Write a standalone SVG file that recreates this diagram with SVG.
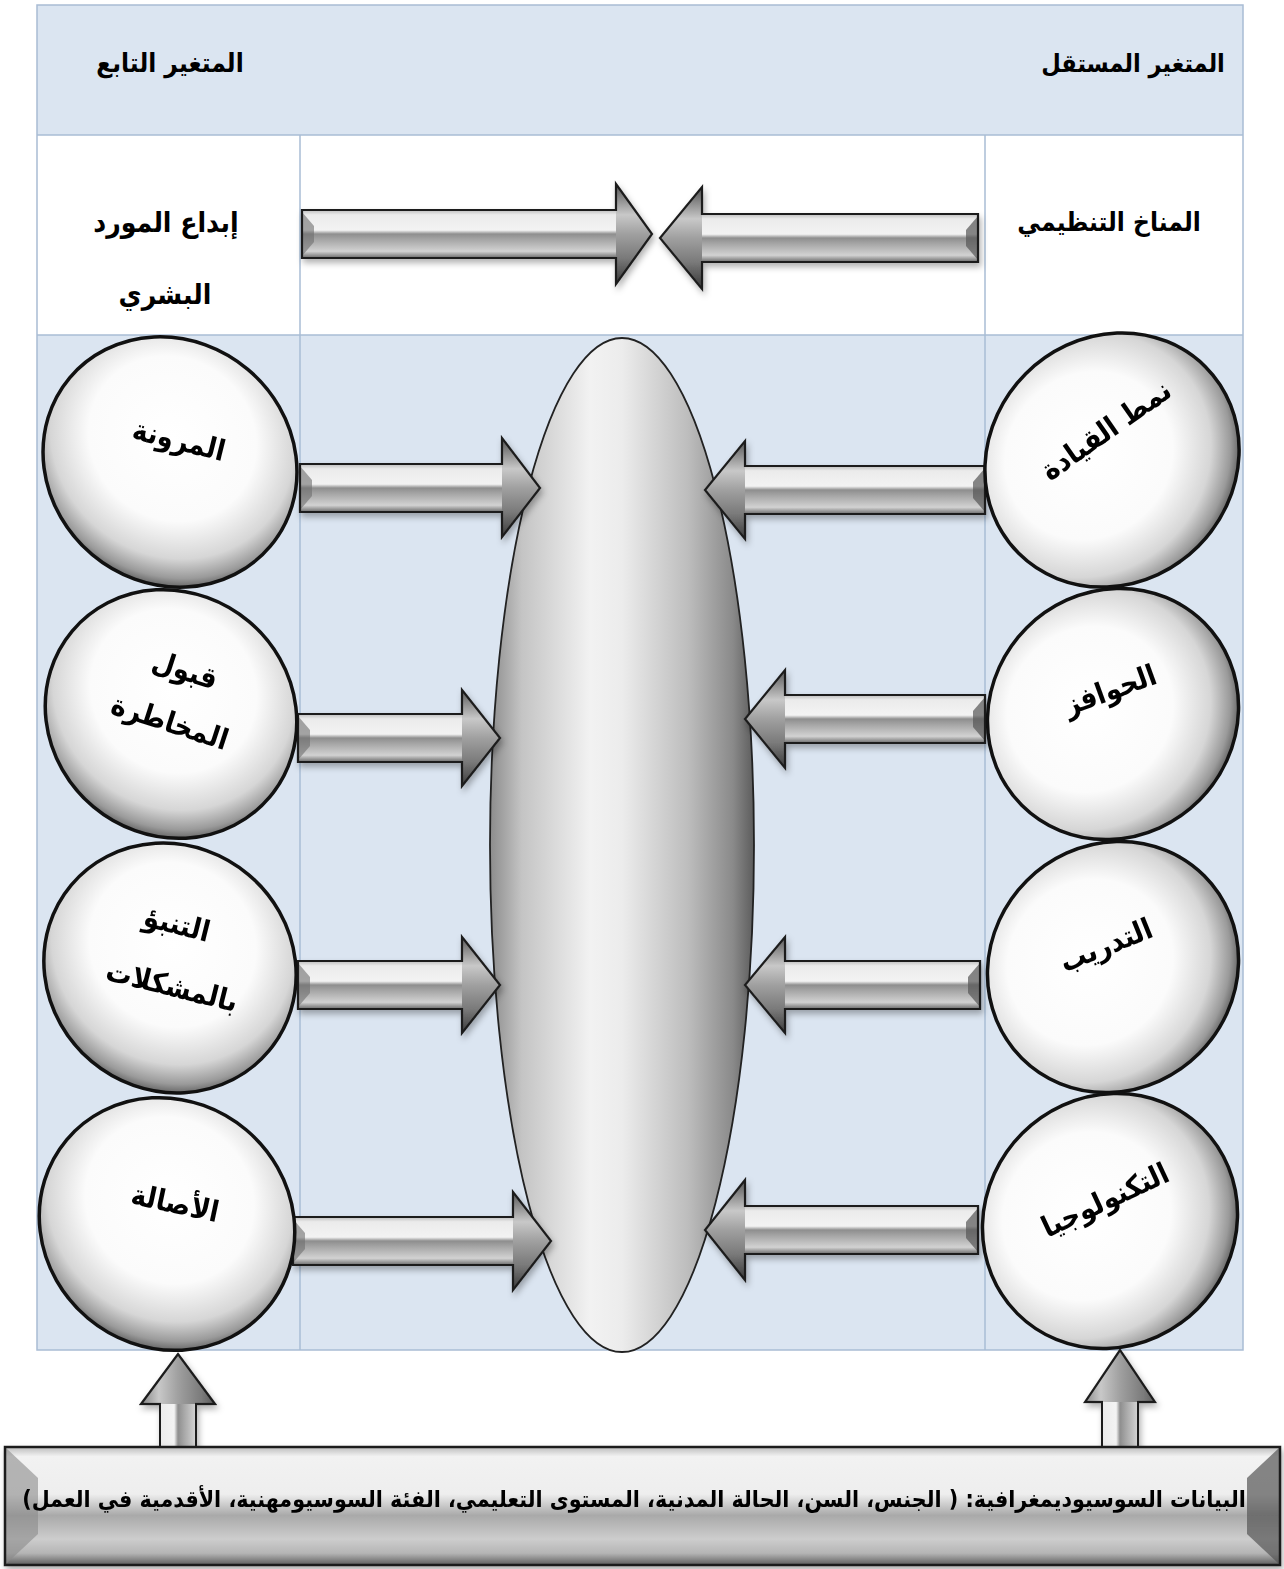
<svg xmlns="http://www.w3.org/2000/svg" width="1284" height="1569" viewBox="0 0 1284 1569">
<style>
.t{font-family:"DejaVu Sans Condensed","DejaVu Sans",sans-serif;font-weight:bold;fill:#000;direction:rtl;text-anchor:middle;dominant-baseline:central}
.cell{stroke:#a9bcd4;stroke-width:1.5}
.node{fill:url(#gNode);stroke:#111;stroke-width:3.5}
.outline{fill:none;stroke:#1e1e1e;stroke-width:2.2;stroke-linejoin:miter}
</style>
<defs>
<radialGradient id="gNode" cx="0.45" cy="0.42" r="0.6">
<stop offset="0" stop-color="#ffffff"/>
<stop offset="0.55" stop-color="#fbfbfb"/>
<stop offset="0.8" stop-color="#d6d6d6"/>
<stop offset="0.93" stop-color="#9a9a9a"/>
<stop offset="1" stop-color="#5e5e5e"/>
</radialGradient>
<linearGradient id="gLens" x1="0" y1="0" x2="1" y2="0">
<stop offset="0" stop-color="#8c8c8c"/>
<stop offset="0.12" stop-color="#c4c4c4"/>
<stop offset="0.38" stop-color="#f2f2f2"/>
<stop offset="0.5" stop-color="#ececec"/>
<stop offset="0.75" stop-color="#bdbdbd"/>
<stop offset="0.92" stop-color="#8a8a8a"/>
<stop offset="1" stop-color="#5c5c5c"/>
</linearGradient>
<linearGradient id="gShaft" gradientUnits="userSpaceOnUse" x1="0" y1="-24" x2="0" y2="24">
<stop offset="0" stop-color="#bdbdbd"/>
<stop offset="0.1" stop-color="#ebebeb"/>
<stop offset="0.42" stop-color="#f3f3f3"/>
<stop offset="0.5" stop-color="#8e8e8e"/>
<stop offset="0.62" stop-color="#a6a6a6"/>
<stop offset="0.86" stop-color="#d2d2d2"/>
<stop offset="1" stop-color="#6a6a6a"/>
</linearGradient>
<linearGradient id="gHead" gradientUnits="userSpaceOnUse" x1="0" y1="-48" x2="0" y2="48">
<stop offset="0" stop-color="#5a5a5a"/>
<stop offset="0.3" stop-color="#c8c8c8"/>
<stop offset="0.5" stop-color="#a0a0a0"/>
<stop offset="0.75" stop-color="#7a7a7a"/>
<stop offset="1" stop-color="#3c3c3c"/>
</linearGradient>
<linearGradient id="gBox" x1="0" y1="0" x2="0" y2="1">
<stop offset="0" stop-color="#bcbcbc"/>
<stop offset="0.08" stop-color="#f2f2f2"/>
<stop offset="0.4" stop-color="#eeeeee"/>
<stop offset="0.58" stop-color="#a9a9a9"/>
<stop offset="0.78" stop-color="#cdcdcd"/>
<stop offset="0.9" stop-color="#b5b5b5"/>
<stop offset="1" stop-color="#5e5e5e"/>
</linearGradient>
<filter id="sh" x="-10%" y="-30%" width="120%" height="170%">
<feDropShadow dx="2" dy="4" stdDeviation="3" flood-color="#000" flood-opacity="0.3"/>
</filter>
</defs>

<!-- table background -->
<g id="table">
<rect x="37" y="5" width="1206" height="130" fill="#dbe5f1"/>
<rect x="37" y="135" width="1206" height="200" fill="#ffffff"/>
<rect x="37" y="335" width="1206" height="1015" fill="#dbe5f1"/>
<rect x="37" y="5" width="1206" height="1345" fill="none" class="cell"/>
<line x1="37" y1="135" x2="1243" y2="135" class="cell"/>
<line x1="37" y1="335" x2="1243" y2="335" class="cell"/>
<line x1="300" y1="135" x2="300" y2="1350" class="cell"/>
<line x1="985" y1="135" x2="985" y2="1350" class="cell"/>
<text class="t" x="170" y="63" font-size="26">المتغير التابع</text>
<text class="t" x="1133" y="63" font-size="25">المتغير المستقل</text>
</g>

<g id="node-creativity">
<text class="t" x="166" y="222" font-size="28">إبداع المورد</text>
<text class="t" x="165" y="294" font-size="28">البشري</text>
</g>
<g id="node-climate">
<text class="t" x="1109" y="222" font-size="26">المناخ التنظيمي</text>
</g>

<g id="node-center">
<ellipse cx="622" cy="845" rx="132" ry="507" fill="url(#gLens)" stroke="#222" stroke-width="1.8"/>
</g>

<g id="connectors" filter="url(#sh)">
<!-- top row arrows -->
<g transform="translate(302,234)">
<rect x="0" y="-24" width="314" height="48" fill="url(#gShaft)"/>
<polygon points="314,-50 350,0 314,50" fill="url(#gHead)"/>
<polygon points="0,-22 12,-8 12,8 0,22" fill="#6e6e6e" opacity="0.6"/>
<path class="outline" d="M0,-24 H314 V-50 L350,0 L314,50 V24 H0 Z"/>
</g>
<g transform="translate(978,238) scale(-1,1)">
<rect x="0" y="-24" width="276" height="48" fill="url(#gShaft)"/>
<polygon points="276,-51 318,0 276,51" fill="url(#gHead)"/>
<polygon points="0,-22 12,-8 12,8 0,22" fill="#555" opacity="0.7"/>
<path class="outline" d="M0,-24 H276 V-51 L318,0 L276,51 V24 H0 Z"/>
</g>
<!-- left arrows pointing right -->
<g transform="translate(300,488)">
<rect x="0" y="-24" width="202" height="48" fill="url(#gShaft)"/>
<polygon points="202,-50 240,0 202,49" fill="url(#gHead)"/>
<polygon points="0,-22 12,-8 12,8 0,22" fill="#6e6e6e" opacity="0.6"/>
<path class="outline" d="M0,-24 H202 V-50 L240,0 L202,49 V24 H0 Z"/>
</g>
<g transform="translate(298,738)">
<rect x="0" y="-24" width="164" height="48" fill="url(#gShaft)"/>
<polygon points="164,-48 202,0 164,48" fill="url(#gHead)"/>
<polygon points="0,-22 12,-8 12,8 0,22" fill="#6e6e6e" opacity="0.6"/>
<path class="outline" d="M0,-24 H164 V-48 L202,0 L164,48 V24 H0 Z"/>
</g>
<g transform="translate(298,985)">
<rect x="0" y="-24" width="164" height="48" fill="url(#gShaft)"/>
<polygon points="164,-48 202,0 164,48" fill="url(#gHead)"/>
<polygon points="0,-22 12,-8 12,8 0,22" fill="#6e6e6e" opacity="0.6"/>
<path class="outline" d="M0,-24 H164 V-48 L202,0 L164,48 V24 H0 Z"/>
</g>
<g transform="translate(293,1241)">
<rect x="0" y="-24" width="220" height="48" fill="url(#gShaft)"/>
<polygon points="220,-49 258,0 220,49" fill="url(#gHead)"/>
<polygon points="0,-22 12,-8 12,8 0,22" fill="#6e6e6e" opacity="0.6"/>
<path class="outline" d="M0,-24 H220 V-49 L258,0 L220,49 V24 H0 Z"/>
</g>
<!-- right arrows pointing left -->
<g transform="translate(985,490) scale(-1,1)">
<rect x="0" y="-24" width="240" height="48" fill="url(#gShaft)"/>
<polygon points="240,-49 280,0 240,49" fill="url(#gHead)"/>
<polygon points="0,-22 12,-8 12,8 0,22" fill="#555" opacity="0.7"/>
<path class="outline" d="M0,-24 H240 V-49 L280,0 L240,49 V24 H0 Z"/>
</g>
<g transform="translate(985,719) scale(-1,1)">
<rect x="0" y="-24" width="200" height="48" fill="url(#gShaft)"/>
<polygon points="200,-49 240,0 200,49" fill="url(#gHead)"/>
<polygon points="0,-22 12,-8 12,8 0,22" fill="#555" opacity="0.7"/>
<path class="outline" d="M0,-24 H200 V-49 L240,0 L200,49 V24 H0 Z"/>
</g>
<g transform="translate(980,985) scale(-1,1)">
<rect x="0" y="-24" width="195" height="48" fill="url(#gShaft)"/>
<polygon points="195,-48 235,0 195,48" fill="url(#gHead)"/>
<polygon points="0,-22 12,-8 12,8 0,22" fill="#555" opacity="0.7"/>
<path class="outline" d="M0,-24 H195 V-48 L235,0 L195,48 V24 H0 Z"/>
</g>
<g transform="translate(978,1230) scale(-1,1)">
<rect x="0" y="-24" width="233" height="48" fill="url(#gShaft)"/>
<polygon points="233,-50 273,0 233,50" fill="url(#gHead)"/>
<polygon points="0,-22 12,-8 12,8 0,22" fill="#555" opacity="0.7"/>
<path class="outline" d="M0,-24 H233 V-50 L273,0 L233,50 V24 H0 Z"/>
</g>
<!-- up arrows from bottom box -->
<g transform="translate(178,1450) rotate(-90)">
<rect x="0" y="-18" width="46" height="36" fill="url(#gShaft)"/>
<polygon points="46,-37 96,0 46,37" fill="url(#gHead)"/>
<path class="outline" d="M0,-18 H46 V-37 L96,0 L46,37 V18 H0 Z"/>
</g>
<g transform="translate(1120,1450) rotate(-90)">
<rect x="0" y="-18" width="48" height="36" fill="url(#gShaft)"/>
<polygon points="48,-35 100,0 48,35" fill="url(#gHead)"/>
<path class="outline" d="M0,-18 H48 V-35 L100,0 L48,35 V18 H0 Z"/>
</g>
</g>

<!-- left nodes -->
<g id="node-flexibility">
<ellipse cx="170" cy="462" rx="131" ry="121" transform="rotate(40,170,462)" class="node"/>
<text class="t" x="179" y="440" font-size="29" transform="rotate(14,179,440)">المرونة</text>
</g>
<g id="node-risk">
<ellipse cx="171" cy="714" rx="129" ry="121" transform="rotate(40,171,714)" class="node"/>
<text class="t" x="185" y="670" font-size="29" transform="rotate(18,185,670)">قبول</text>
<text class="t" x="170" y="722" font-size="29" transform="rotate(18,170,722)">المخاطرة</text>
</g>
<g id="node-prediction">
<ellipse cx="170" cy="968" rx="129" ry="122" transform="rotate(40,170,968)" class="node"/>
<text class="t" x="177" y="924" font-size="29" transform="rotate(14,177,924)">التنبؤ</text>
<text class="t" x="172" y="986" font-size="29" transform="rotate(14,172,986)">بالمشكلات</text>
</g>
<g id="node-originality">
<ellipse cx="167" cy="1224" rx="131" ry="123" transform="rotate(40,167,1224)" class="node"/>
<text class="t" x="175" y="1203" font-size="29" transform="rotate(12,175,1203)">الأصالة</text>
</g>

<!-- right nodes -->
<g id="node-leadership">
<ellipse cx="1112" cy="460" rx="132" ry="122" transform="rotate(-45,1112,460)" class="node"/>
<text class="t" x="1106" y="430" font-size="29" transform="rotate(-35,1106,430)">نمط القيادة</text>
</g>
<g id="node-incentives">
<ellipse cx="1113" cy="714" rx="129" ry="122" transform="rotate(-45,1113,714)" class="node"/>
<text class="t" x="1110" y="690" font-size="29" transform="rotate(-20,1110,690)">الحوافز</text>
</g>
<g id="node-training">
<ellipse cx="1113" cy="967" rx="129" ry="122" transform="rotate(-45,1113,967)" class="node"/>
<text class="t" x="1106" y="945" font-size="29" transform="rotate(-22,1106,945)">التدريب</text>
</g>
<g id="node-technology">
<ellipse cx="1110" cy="1221" rx="131" ry="124" transform="rotate(-45,1110,1221)" class="node"/>
<text class="t" x="1105" y="1200" font-size="29" transform="rotate(-25,1105,1200)">التكنولوجيا</text>
</g>

<!-- bottom box -->
<g id="node-demographics" filter="url(#sh)">
<rect x="5" y="1447" width="1275" height="118" fill="url(#gBox)"/>
<polygon points="5,1447 38,1478 38,1534 5,1565" fill="#8a8a8a" opacity="0.6"/>
<polygon points="1280,1447 1247,1478 1247,1534 1280,1565" fill="#555" opacity="0.7"/>
<rect x="5" y="1447" width="1275" height="118" fill="none" stroke="#1e1e1e" stroke-width="2.5"/>
<text class="t" x="634" y="1499" font-size="23">البيانات السوسيوديمغرافية: ( الجنس، السن، الحالة المدنية، المستوى التعليمي، الفئة السوسيومهنية، الأقدمية في العمل)</text>
</g>
</svg>
